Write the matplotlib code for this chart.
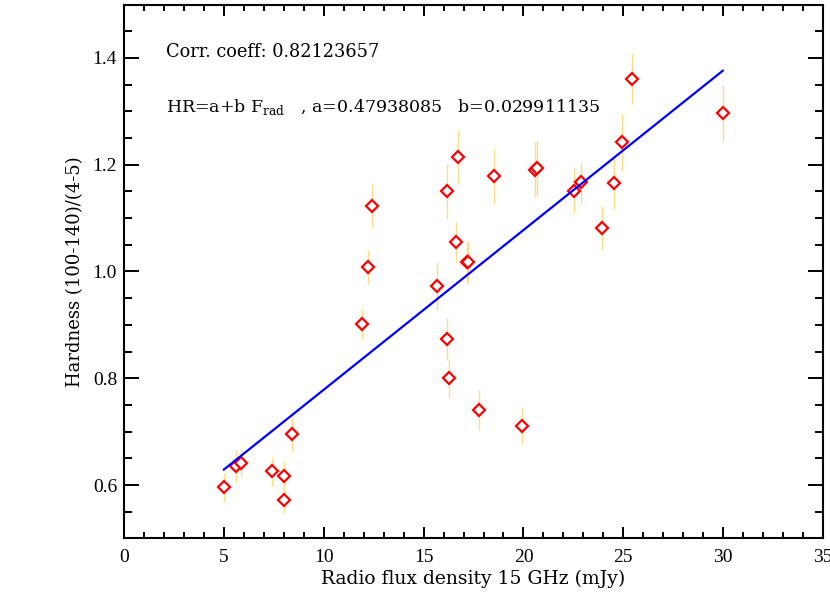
import numpy as np
import matplotlib
matplotlib.use('Agg')
import matplotlib.pyplot as plt
from matplotlib.ticker import MultipleLocator

# radio flux (mJy), hardness ratio and its error
flux = [5.0, 5.6, 5.84, 7.4, 8.0, 8.0, 8.41, 11.9, 12.2, 12.4,
        15.69, 16.16, 16.19, 16.29, 16.61, 16.74, 17.16, 17.24, 17.79, 18.53,
        19.91, 20.6, 20.7, 22.55, 22.87, 23.95, 24.55, 24.95, 25.42, 29.98]
hardness = [0.596, 0.636, 0.641, 0.626, 0.617, 0.572, 0.696, 0.901, 1.008, 1.123,
            0.973, 0.874, 1.150, 0.800, 1.055, 1.215, 1.017, 1.018, 0.741, 1.178,
            0.711, 1.191, 1.194, 1.151, 1.167, 1.081, 1.165, 1.242, 1.361, 1.297]
hr_err = [0.027, 0.030, 0.026, 0.027, 0.028, 0.024, 0.035, 0.028, 0.032, 0.041,
          0.045, 0.039, 0.052, 0.037, 0.037, 0.050, 0.039, 0.040, 0.038, 0.052,
          0.034, 0.052, 0.052, 0.042, 0.039, 0.041, 0.048, 0.054, 0.048, 0.053]

a = 0.47938085
b = 0.029911135
corr = 0.82123657

plt.rcParams['font.family'] = ['Liberation Serif', 'DejaVu Serif']
plt.rcParams['mathtext.fontset'] = 'custom'
plt.rcParams['mathtext.rm'] = 'DejaVu Serif'
wide = ['DejaVu Serif']

fig = plt.figure(figsize=(8.3, 5.99), dpi=100)
ax = fig.add_axes([0.1494, 0.1012, 0.8422, 0.8911])

ax.errorbar(flux, hardness, yerr=hr_err, fmt='none', ecolor='#FFDB85',
            elinewidth=1, capsize=0, zorder=2)
ax.plot(flux, hardness, 'D', ms=6.5, mfc='white', mec='red', mew=1.6, zorder=3)

xfit = np.array([min(flux), max(flux)])
ax.plot(xfit, a + b * xfit, color='blue', lw=1.6, zorder=4)

ax.text(2.1, 1.402, 'Corr. coeff: %.8f' % corr, fontsize=12.8, family=wide)
ax.text(2.1, 1.299, r'HR=a+b F$_{\mathrm{rad}}$   , a=%.8f   b=%.9f' % (a, b),
        fontsize=12.5, family=wide)

ax.set_xlim(0, 35)
ax.set_ylim(0.5, 1.5)
ax.xaxis.set_major_locator(MultipleLocator(5))
ax.xaxis.set_minor_locator(MultipleLocator(1))
ax.yaxis.set_major_locator(MultipleLocator(0.2))
ax.yaxis.set_minor_locator(MultipleLocator(0.05))
ax.yaxis.set_major_formatter(plt.FuncFormatter(lambda v, p: '%.1f' % v))

for s in ax.spines.values():
    s.set_linewidth(1.5)
ax.tick_params(axis='both', which='both', direction='in', top=True, right=True,
               width=1.4, labelsize=14)
ax.tick_params(axis='x', which='major', length=8, pad=8)
ax.tick_params(axis='x', which='minor', length=4)
ax.tick_params(axis='y', which='major', length=11, pad=5)
ax.tick_params(axis='y', which='minor', length=6)

ax.set_xlabel('Radio flux density 15 GHz (mJy)', fontsize=13.5, family=wide, labelpad=2)
ax.set_ylabel('Hardness (100-140)/(4-5)', fontsize=13, family=wide, labelpad=6)

fig.savefig('out.png', dpi=100)
